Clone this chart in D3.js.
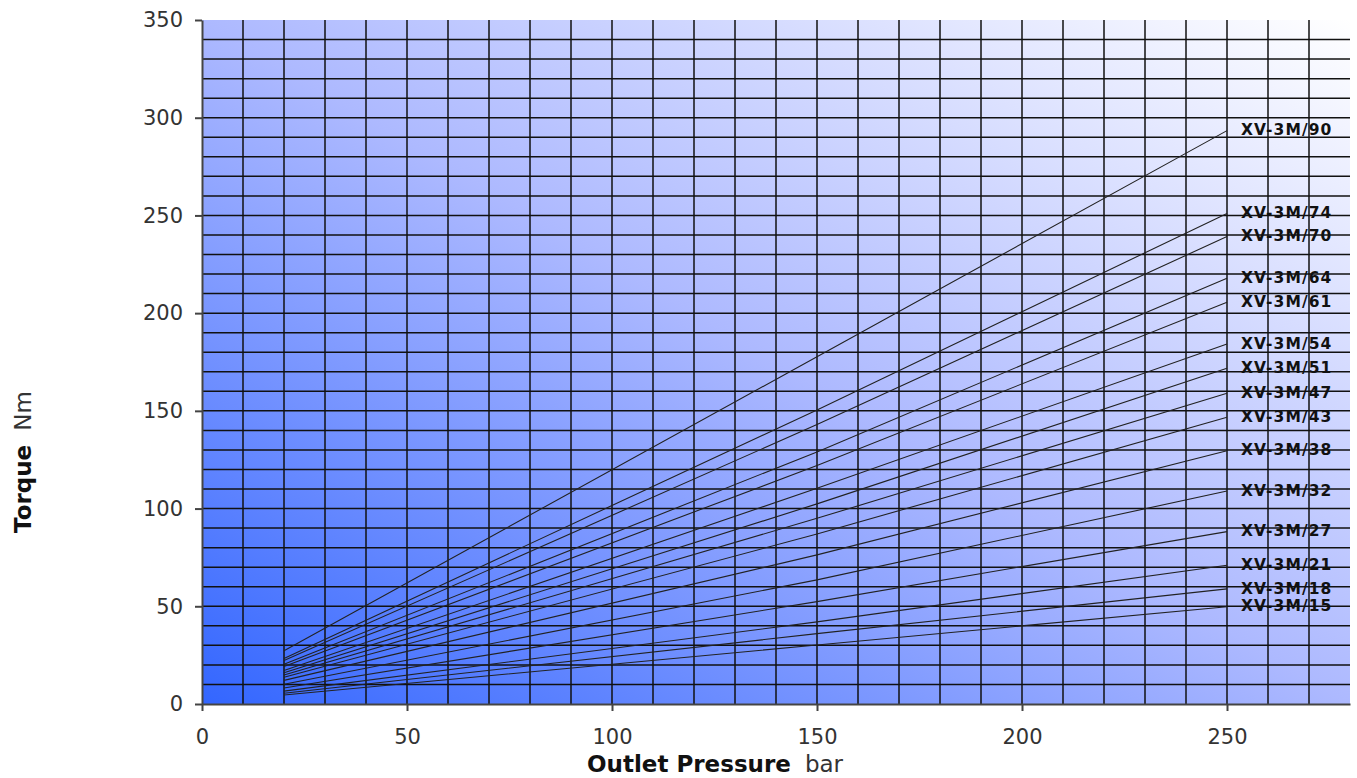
<!DOCTYPE html>
<html>
<head>
<meta charset="utf-8">
<script src="https://cdn.jsdelivr.net/npm/d3@7"></script>
<style>
  body { margin: 0; background: #fff; }
  text { font-family: Verdana, "DejaVu Sans", sans-serif; }
</style>
</head>
<body>
<svg id="chart" width="1357" height="778"></svg>
<script>
// Models (displacement) and torque read at 20, 150 and 250 bar
const models = ["XV-3M/90", "XV-3M/74", "XV-3M/70", "XV-3M/64", "XV-3M/61", "XV-3M/54", "XV-3M/51",
    "XV-3M/47", "XV-3M/43", "XV-3M/38", "XV-3M/32", "XV-3M/27", "XV-3M/21", "XV-3M/18", "XV-3M/15"];
const pressures = [20, 150, 250];
const torqueAt20 = [27.3, 23.3, 22.2, 20.3, 19.2, 17.1, 16.0, 14.8, 13.7, 12.1, 10.1, 8.2, 6.6, 5.5, 4.6];
const torqueAt150 = [177.7, 150.5, 143, 129, 122, 110.4, 102.4, 95, 87, 76.3, 63.5, 52.4, 42, 36, 30.2];
const torqueAt250 = [293.4, 251, 239.2, 217.9, 205.6, 184.2, 171.8, 159, 146.7, 129.6, 109, 88.2, 71, 58.9, 49.8];

const xTicks = [0, 50, 100, 150, 200, 250];
const yTicks = [0, 50, 100, 150, 200, 250, 300, 350];

const svg = d3.select("#chart");
const margin = { left: 202, top: 20, right: 7, bottom: 74 };
const width = 1357 - margin.left - margin.right;
const height = 778 - margin.top - margin.bottom;

const x = d3.scaleLinear().domain([0, 280]).range([0, width]);
const y = d3.scaleLinear().domain([0, 350]).range([height, 0]);

// Gradient background
const defs = svg.append("defs");
const grad = defs.append("linearGradient")
    .attr("id", "bg")
    .attr("x1", 0).attr("y1", 1).attr("x2", 1).attr("y2", 0);
grad.append("stop").attr("offset", 0).attr("stop-color", "#3366ff");
grad.append("stop").attr("offset", 0.5).attr("stop-color", "#adb9ff");
grad.append("stop").attr("offset", 1).attr("stop-color", "#ffffff");

const g = svg.append("g").attr("transform", `translate(${margin.left},${margin.top})`);

g.append("rect")
    .attr("width", width)
    .attr("height", height)
    .attr("fill", "url(#bg)");

// Grid
g.append("g")
    .selectAll("line")
    .data(d3.range(10, 280, 10))
    .enter().append("line")
    .attr("x1", d => x(d)).attr("x2", d => x(d))
    .attr("y1", 0).attr("y2", height)
    .attr("stroke", "#111")
    .attr("stroke-width", 1.5);

g.append("g")
    .selectAll("line")
    .data(d3.range(10, 350, 10))
    .enter().append("line")
    .attr("x1", 0).attr("x2", width)
    .attr("y1", d => y(d)).attr("y2", d => y(d))
    .attr("stroke", "#111")
    .attr("stroke-width", 1.5);

// Axes
const xAxis = g.append("g")
    .attr("transform", `translate(0,${height})`)
    .call(d3.axisBottom(x).tickValues(xTicks).tickSize(7).tickPadding(18).tickSizeOuter(0));
const yAxis = g.append("g")
    .call(d3.axisLeft(y).tickValues(yTicks).tickSize(7).tickPadding(12).tickSizeOuter(0));

[xAxis, yAxis].forEach(a => {
    a.select(".domain").attr("stroke", "#444").attr("stroke-width", 2);
    a.selectAll(".tick line").attr("stroke", "#444").attr("stroke-width", 2);
    a.selectAll(".tick text")
        .attr("fill", "#333")
        .style("font-size", "21px")
        .style("font-family", "Verdana, 'DejaVu Sans', sans-serif");
});

// Torque lines
const series = models.map((m, i) => ({
    name: m,
    values: [torqueAt20[i], torqueAt150[i], torqueAt250[i]].map((v, j) => ({ p: pressures[j], t: v }))
}));

const line = d3.line().x(d => x(d.p)).y(d => y(d.t));

g.append("g")
    .selectAll("path")
    .data(series)
    .enter().append("path")
    .attr("d", d => line(d.values))
    .attr("fill", "none")
    .attr("stroke", "#222")
    .attr("stroke-width", 1.1);

g.append("g")
    .selectAll("text")
    .data(series)
    .enter().append("text")
    .attr("x", x(250) + 14)
    .attr("y", d => y(d.values[d.values.length - 1].t))
    .attr("dy", "0.3em")
    .attr("fill", "#111")
    .style("font-size", "15.5px")
    .style("font-weight", "bold")
    .style("letter-spacing", "1.1px")
    .text(d => d.name);

// Axis titles
const xTitle = svg.append("text")
    .attr("x", 587)
    .attr("y", 772)
    .attr("fill", "#111")
    .style("font-size", "23px");
xTitle.append("tspan").style("font-weight", "bold").text("Outlet Pressure");
xTitle.append("tspan").attr("dx", 14).attr("fill", "#333").text("bar");

const yTitle = svg.append("text")
    .attr("transform", "translate(31,533) rotate(-90)")
    .attr("fill", "#111")
    .style("font-size", "23px");
yTitle.append("tspan").style("font-weight", "bold").text("Torque");
yTitle.append("tspan").attr("dx", 14).attr("fill", "#333").text("Nm");
</script>
</body>
</html>
